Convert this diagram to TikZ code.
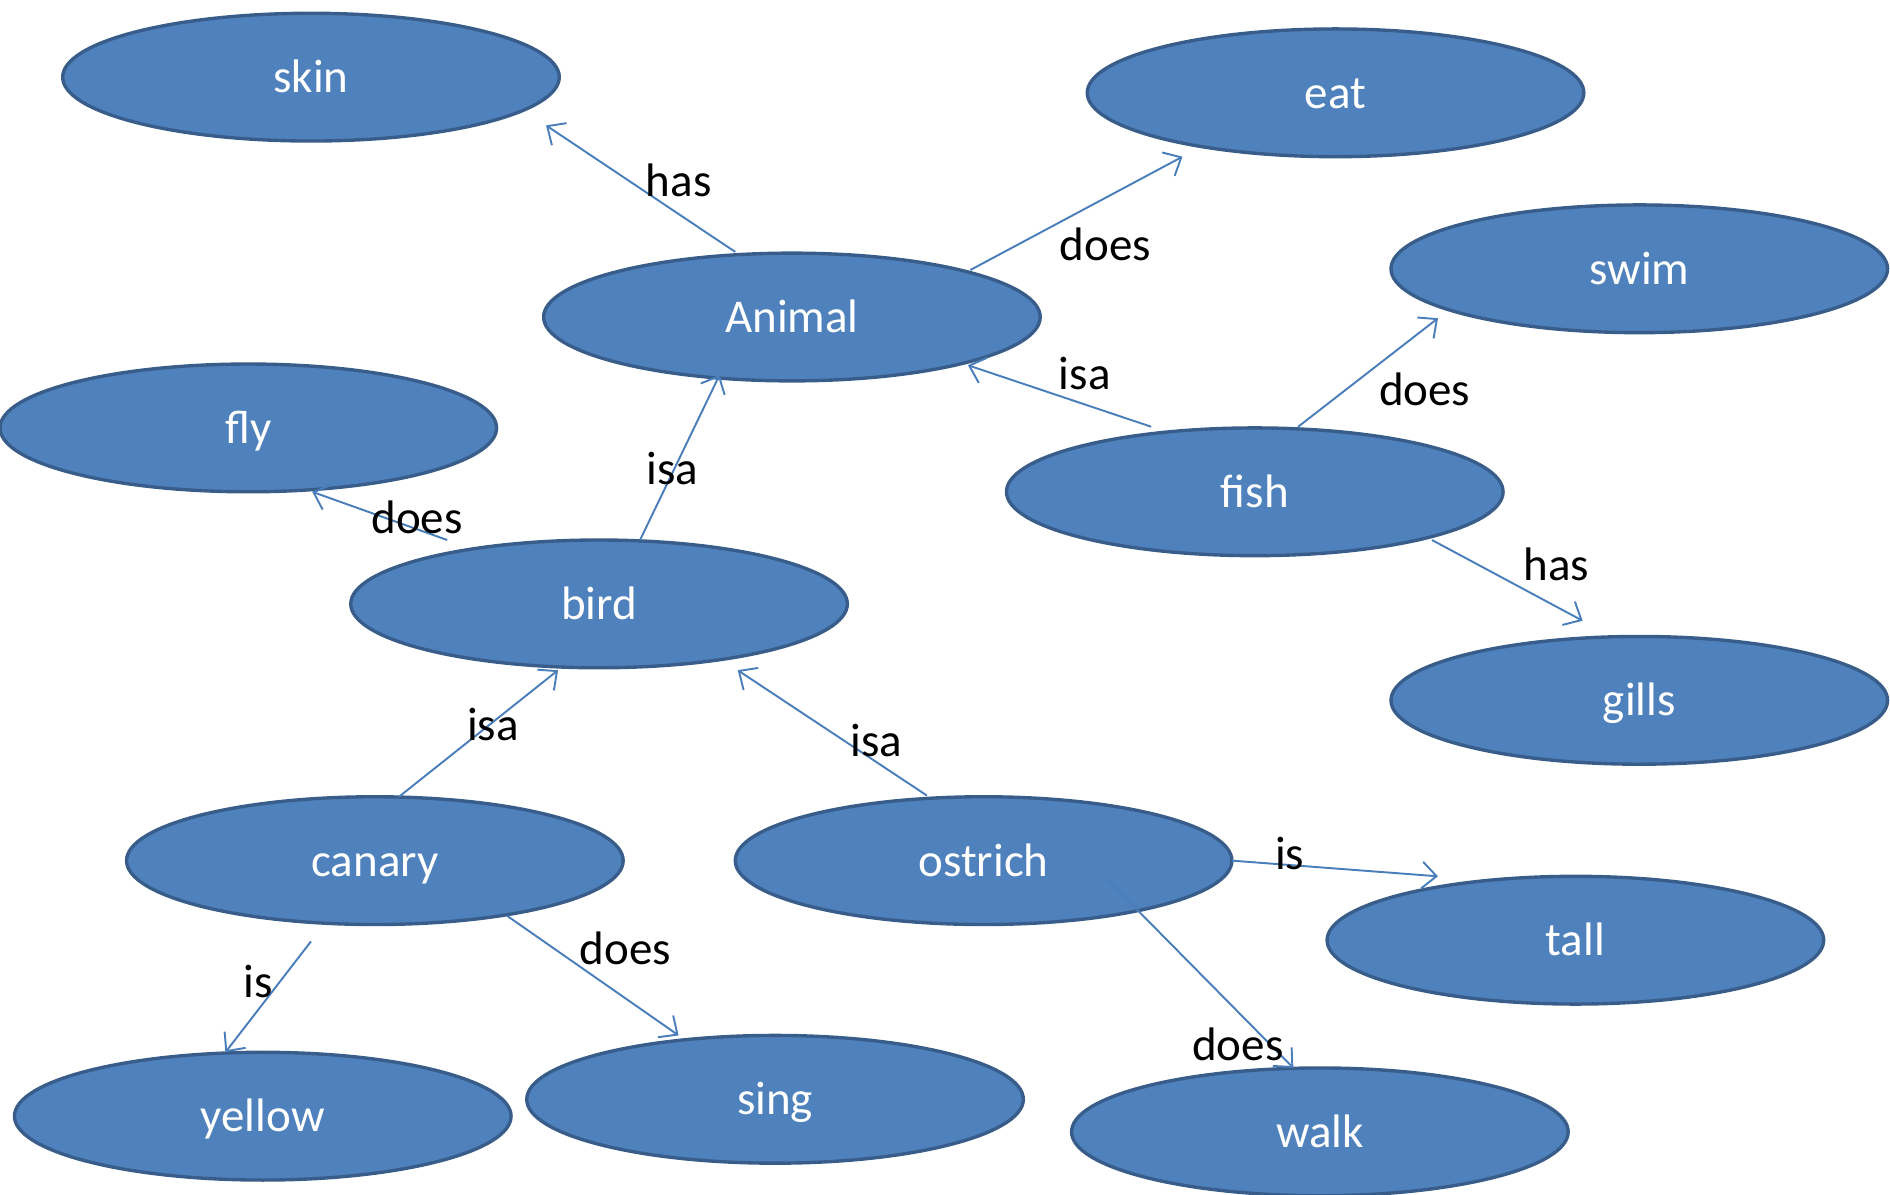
\documentclass[tikz,border=0pt]{standalone}
\usepackage{fontspec}
\setmainfont{Carlito}
\usetikzlibrary{shapes.geometric,arrows.meta,calc}
\definecolor{ellfill}{HTML}{4F81BD}
\definecolor{ellline}{HTML}{385D8A}
\definecolor{arrline}{HTML}{4A7EBB}
\tikzset{
  concept/.style={ellipse, fill=ellfill, draw=ellline, line width=1.4pt,
    minimum width=206pt, minimum height=53pt, inner sep=0pt,
    text height=13pt, text depth=0pt,
    text=white, font=\fontsize{19.5}{22}\selectfont},
  rel/.style={draw=arrline, line width=0.8pt, -{Straight Barb[length=6pt,width=11pt,line width=0.8pt]}},
  lbl/.style={text=black, font=\fontsize{19.5}{22}\selectfont, inner sep=0pt}
}
\begin{document}
\begin{tikzpicture}[x=0.5pt,y=-0.5pt]
\useasboundingbox (0,0) rectangle (1568,991);
% nodes
\node[concept] (skin)    at (258,64)   {skin};
\node[concept] (eat)     at (1108,77)  {eat};
\node[concept] (animal)  at (657,263)  {Animal};
\node[concept] (swim)    at (1360,223) {swim};
\node[concept] (fly)     at (206,355)  {fly};
\node[concept] (fish)    at (1041,408) {fish};
\node[concept] (bird)    at (497,501)  {bird};
\node[concept] (gills)   at (1360,581) {gills};
\node[concept] (canary)  at (311,714)  {canary};
\node[concept] (ostrich) at (816,714)  {ostrich};
\node[concept] (tall)    at (1307,780) {tall};
\node[concept] (yellow)  at (218,926)  {yellow};
\node[concept] (sing)    at (643,912)  {sing};
\node[concept] (walk)    at (1095,939) {walk};
% connectors
\draw[rel] ($(animal)+(-47,-54)$) -- ($(skin)+(195,40)$);
\draw[rel] ($(animal)+(148,-39)$) -- ($(eat)+(-127,53)$);
\draw[rel] ($(fish)+(-86,-54)$) -- ($(animal)+(146,40)$);
\draw[rel] ($(fish)+(36,-54)$) -- ($(swim)+(-167,41)$);
\draw[rel] ($(fish)+(147,40)$) -- ($(gills)+(-47,-66)$);
\draw[rel] ($(bird)+(34,-53)$) -- ($(animal)+(-60,48)$);
\draw[rel] ($(bird)+(-126,-53)$) -- ($(fly)+(53,53)$);
\draw[rel] ($(canary)+(20,-53)$) -- ($(bird)+(-34,55)$);
\draw[rel] ($(ostrich)+(-47,-54)$) -- ($(bird)+(115,55)$);
\draw[rel] ($(ostrich)+(206,0)$) -- ($(tall)+(-114,-53)$);
\draw[rel] ($(ostrich)+(102,15)$) -- ($(walk)+(-22,-53)$);
\draw[rel] ($(canary)+(110,46)$) -- ($(sing)+(-80,-53)$);
\draw[rel] ($(canary)+(-53,67)$) -- ($(yellow)+(-31,-53)$);
% labels
\node[lbl] (l1)  at (563,150) {has};
\node[lbl] (l2)  at (917,203) {does};
\node[lbl] (l3)  at (900,310) {isa};
\node[lbl] (l4)  at (1182,323) {does};
\node[lbl] (l5)  at (1291,468) {has};
\node[lbl] (l6)  at (558,389) {isa};
\node[lbl] (l7)  at (346,429) {does};
\node[lbl] (l8)  at (409,601) {isa};
\node[lbl] (l9)  at (727,614) {isa};
\node[lbl] (l10) at (1070,708) {is};
\node[lbl] (l11) at (1027,866) {does};
\node[lbl] (l12) at (519,787) {does};
\node[lbl] (l13) at (214,814) {is};
\end{tikzpicture}
\end{document}
